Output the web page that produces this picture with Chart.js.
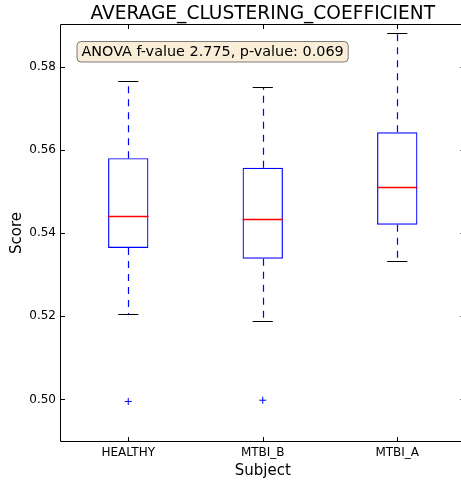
<!DOCTYPE html>
<html><head><meta charset="utf-8">
<script src="https://cdn.jsdelivr.net/npm/chart.js@4"></script>
<style>html,body{margin:0;padding:0;overflow:hidden;background:#fff;width:461px;height:481px}#wrap{width:461px;height:481px;overflow:hidden;position:relative}canvas{position:absolute;left:0;top:0}</style>
</head><body><div id="wrap"><canvas id="c" width="469" height="481"></canvas></div>
<script>
const categories = ['HEALTHY', 'MTBI_B', 'MTBI_A'];
const whiskerLow = [0.5205, 0.5189, 0.5333];
const q1 = [0.5364, 0.5338, 0.5420];
const median = [0.5441, 0.5434, 0.5511];
const q3 = [0.5580, 0.5557, 0.5642];
const whiskerHigh = [0.5765, 0.5750, 0.5882];
const outliers = [0.4995, 0.4998, null];
const yTicks = [0.50, 0.52, 0.54, 0.56, 0.58];
const titleText = 'AVERAGE_CLUSTERING_COEFFICIENT';
const annotationText = 'ANOVA f-value 2.775, p-value: 0.069';

const FONT = "'DejaVu Sans', sans-serif";
Chart.defaults.font.family = FONT;
Chart.defaults.color = '#000';

const crisp = v => Math.round(v) + 0.5;

const boxExtras = {
  id: 'boxExtras',
  afterDatasetsDraw(chart) {
    const ctx = chart.ctx, xs = chart.scales.x, ys = chart.scales.y;
    const step = xs.getPixelForValue(1) - xs.getPixelForValue(0);
    ctx.save();
    ctx.lineWidth = 1.2;
    categories.forEach((c, i) => {
      const cx = xs.getPixelForValue(i);
      const bh = 0.15 * step, ch = 0.075 * step;
      const xc = crisp(cx);
      ctx.lineWidth = 1.2;
      ctx.strokeStyle = '#0000ff';
      ctx.setLineDash([7, 6]);
      ctx.beginPath();
      ctx.moveTo(xc, ys.getPixelForValue(q3[i]));
      ctx.lineTo(xc, ys.getPixelForValue(whiskerHigh[i]));
      ctx.moveTo(xc, ys.getPixelForValue(q1[i]));
      ctx.lineTo(xc, ys.getPixelForValue(whiskerLow[i]));
      ctx.stroke();
      ctx.setLineDash([]);
      ctx.strokeStyle = '#000';
      ctx.beginPath();
      [whiskerHigh[i], whiskerLow[i]].forEach(v => {
        const y = crisp(ys.getPixelForValue(v));
        ctx.moveTo(cx - ch, y); ctx.lineTo(cx + ch, y);
      });
      ctx.stroke();
      ctx.lineWidth = 1.3;
      ctx.strokeStyle = '#ff0000';
      ctx.beginPath();
      const ym = crisp(ys.getPixelForValue(median[i]));
      ctx.moveTo(cx - bh, ym); ctx.lineTo(cx + bh, ym);
      ctx.stroke();
    });
    ctx.restore();
  },
  afterDraw(chart) {
    const ctx = chart.ctx, a = chart.chartArea, xs = chart.scales.x, ys = chart.scales.y;
    ctx.save();
    ctx.strokeStyle = '#000';
    ctx.lineWidth = 1;
    const L = crisp(a.left) - 1, T = crisp(a.top) - 1, B = crisp(a.bottom), R = crisp(a.right);
    ctx.beginPath();
    ctx.moveTo(R, T); ctx.lineTo(L, T); ctx.lineTo(L, B); ctx.lineTo(R, B); ctx.lineTo(R, T);
    ctx.stroke();
    ctx.beginPath();
    yTicks.forEach(v => {
      const y = crisp(ys.getPixelForValue(v));
      ctx.moveTo(a.left, y); ctx.lineTo(a.left + 4, y);
      ctx.moveTo(a.right, y); ctx.lineTo(a.right - 4, y);
    });
    categories.forEach((c, i) => {
      const x = crisp(xs.getPixelForValue(i));
      ctx.moveTo(x, a.bottom); ctx.lineTo(x, a.bottom - 4);
      ctx.moveTo(x, a.top); ctx.lineTo(x, a.top + 4);
    });
    ctx.stroke();
    ctx.font = '14.4px ' + FONT;
    const tw = ctx.measureText(annotationText).width;
    const bx = a.left + 16, by = a.top + 16.5, bw = tw + 9, bhh = 20.5;
    ctx.beginPath();
    ctx.roundRect(bx, by, bw, bhh, 4);
    ctx.fillStyle = 'rgba(245,222,179,0.5)';
    ctx.fill();
    ctx.strokeStyle = 'rgba(0,0,0,0.5)';
    ctx.stroke();
    ctx.fillStyle = '#000';
    ctx.textBaseline = 'middle';
    ctx.textAlign = 'left';
    ctx.fillText(annotationText, bx + 4.5, by + bhh / 2 + 0.5);
    ctx.restore();
  }
};

new Chart(document.getElementById('c'), {
  type: 'bar',
  data: {
    labels: categories,
    datasets: [
      {
        type: 'bar',
        data: categories.map((c, i) => [q1[i], q3[i]]),
        backgroundColor: 'rgba(0,0,0,0)',
        borderColor: '#0000ff',
        borderWidth: 1.2,
        borderSkipped: false,
        barPercentage: 0.3,
        categoryPercentage: 1
      },
      {
        type: 'line',
        data: outliers,
        showLine: false,
        pointStyle: 'cross',
        pointRadius: 3.5,
        pointHoverRadius: 3.5,
        pointBorderColor: '#0000ff',
        pointBorderWidth: 1,
        pointBackgroundColor: '#0000ff'
      }
    ]
  },
  options: {
    responsive: false,
    animation: false,
    layout: { padding: { left: 0, right: 0, top: 0, bottom: 0 } },
    plugins: {
      legend: { display: false },
      tooltip: { enabled: false },
      title: {
        display: true, text: titleText, fullSize: false,
        font: { size: 18.6, weight: 'normal', family: FONT },
        color: '#000',
        padding: { top: 3.5, bottom: -0.8 }
      }
    },
    scales: {
      x: {
        type: 'category', offset: true,
        grid: { display: false, drawTicks: false },
        border: { display: false },
        ticks: { font: { size: 12 }, color: '#000', padding: 5 },
        title: { display: true, text: 'Subject', font: { size: 15 }, color: '#000', padding: { top: 0, bottom: 0.5 } },
        afterFit(s) { s.height = 40; }
      },
      y: {
        min: 0.49, max: 0.59,
        grid: { display: false, drawTicks: false },
        border: { display: false },
        afterBuildTicks(s) { s.ticks = yTicks.map(v => ({ value: v })); },
        ticks: { font: { size: 12 }, color: '#000', padding: 5, callback: v => Number(v).toFixed(2) },
        title: { display: true, text: 'Score', font: { size: 15 }, color: '#000', padding: { top: 8.5, bottom: 0 } },
        afterFit(s) { s.width = 61; }
      }
    }
  },
  plugins: [boxExtras]
});
</script>
</body></html>
